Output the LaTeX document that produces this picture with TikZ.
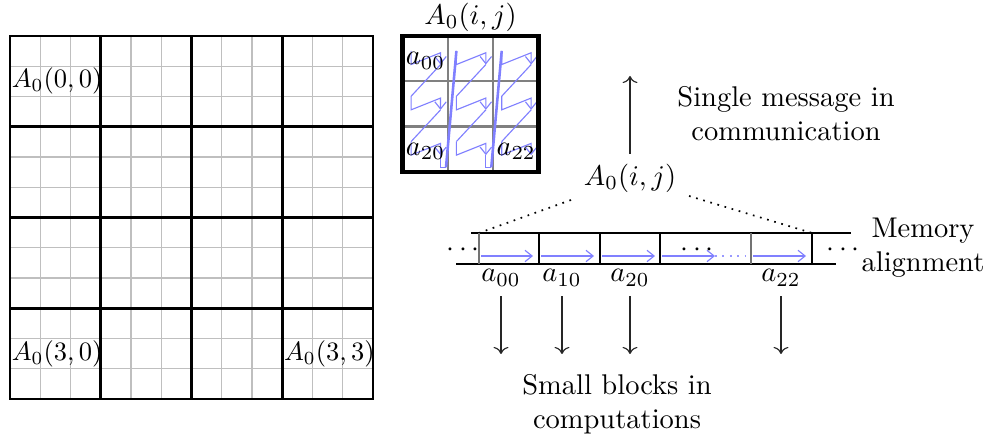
\documentclass[tikz,border=0pt]{standalone}
\usetikzlibrary{arrows.meta}
\begin{document}
\begin{tikzpicture}[x=0.3509pt,y=-0.3509pt,
  fineline/.style={black!25,line width=0.45pt},
  blockline/.style={black,line width=1pt},
  cellline/.style={black!50,line width=0.8pt},
  bluepath/.style={blue!50,line width=0.4pt},
  bluetip/.style={-{Straight Barb[length=2.5pt,width=4pt]}},
  memline/.style={black,line width=1pt},
  sepline/.style={black,line width=0.5pt},
  sepgray/.style={black!55,line width=0.6pt},
  blackarrow/.style={->,line width=0.4pt,black!85},
  lbl/.style={inner sep=0.5pt,anchor=west,scale=0.93,transform shape},
  albl/.style={inner sep=1pt,anchor=west}]
\useasboundingbox (0,0) rectangle (990,439);

% ---- big grid ----
\foreach \i in {1,...,11}{
  \draw[fineline] (10+\i*30.25,36) -- (10+\i*30.25,399);
  \draw[fineline] (10,36+\i*30.25) -- (373,36+\i*30.25);
}
\foreach \i in {3,6,9}{
  \draw[blockline] (10+\i*30.25,36) -- (10+\i*30.25,399);
  \draw[blockline] (10,36+\i*30.25) -- (373,36+\i*30.25);
}
\draw[blockline] (10,36) rectangle (373,399);
\node[lbl] (b00) at (10,81) {$A_0(0,0)$};
\node[lbl] (b30) at (10,353.6) {$A_0(3,0)$};
\node[lbl] (b33) at (282.25,353.6) {$A_0(3,3)$};

% ---- small matrix ----
\def\X{402.5}\def\Y{36}\def\S{45.3}
\node (title) at (470.5,17) {$A_0(i,j)$};
\draw[cellline] (\X+\S,\Y) -- (\X+\S,\Y+3*\S);
\draw[cellline] (\X+2*\S,\Y) -- (\X+2*\S,\Y+3*\S);
\draw[cellline] (\X,\Y+\S) -- (\X+3*\S,\Y+\S);
\draw[cellline] (\X,\Y+2*\S) -- (\X+3*\S,\Y+2*\S);
\foreach \c in {0,1,2}{
  \foreach \r in {0,1,2}{
    \pgfmathsetmacro\L{\X+\c*\S+0.19*\S}
    \pgfmathsetmacro\R{\X+\c*\S+0.84*\S}
    \pgfmathsetmacro\Ya{\Y+\r*\S+0.33*\S}
    \pgfmathsetmacro\Yb{\Y+\r*\S+0.63*\S}
    \pgfmathsetmacro\Yc{\Y+\r*\S+0.37*\S}
    \draw[bluepath,bluetip] (\L,\Ya) -- (\L,\Yb) -- (\R,\Yc) -- (\R,\Yb);
  }
  \pgfmathsetmacro\L{\X+\c*\S+0.19*\S}
  \pgfmathsetmacro\R{\X+\c*\S+0.84*\S}
  \draw[bluepath] (\R,\Y+0.63*\S) -- (\L,\Y+1.33*\S);
  \draw[bluepath] (\R,\Y+1.63*\S) -- (\L,\Y+2.33*\S);
}
\foreach \c in {0,1}{
  \pgfmathsetmacro\R{\X+\c*\S+0.84*\S}
  \pgfmathsetmacro\Ln{\X+(\c+1)*\S+0.19*\S}
  \draw[bluepath] (\R,\Y+2.63*\S) -- (\R,\Y+2.9*\S) -- (\R+0.12*\S,\Y+2.9*\S);
  \draw[bluepath,line width=0.9pt] (\R+0.12*\S,\Y+2.9*\S) -- (\Ln,\Y+0.33*\S);
}
\draw[black,line width=1.6pt] (\X,\Y) rectangle (\X+3*\S,\Y+3*\S);
\node[albl] (a00) at (\X,\Y+0.55*\S) {$a_{00}$};
\node[albl] (a20) at (\X,\Y+2.55*\S) {$a_{20}$};
\node[albl] (a22) at (\X+2*\S,\Y+2.55*\S) {$a_{22}$};

% ---- message ----
\node (msgij) at (630,178) {$A_0(i,j)$};
\coordinate (uptip) at (630,76);
\draw[blackarrow] (msgij.north) -- (uptip);
\node[align=center] (msg) at (786,114) {Single message in\\communication};

% ---- memory row ----
\coordinate (s1) at (479,233);
\coordinate (s6) at (812,233);
\coordinate (dl) at (571,200);
\coordinate (dr) at (689,196);
\draw[dotted,line width=0.6pt] (dl) -- (s1);
\draw[dotted,line width=0.6pt] (dr) -- (s6);
\draw[memline] (471,233) -- (851,233);
\draw[memline] (456,264) -- (836,264);
\foreach \x in {539,600,660,812}{
  \draw[sepline] (\x,233) -- (\x,264);
}
\foreach \x in {479,751}{
  \draw[sepgray] (\x,233) -- (\x,264);
}
\foreach \a/\b in {481/533,541/594,602/655,662/715,753/806}{
  \draw[bluepath,bluetip] (\a,256) -- (\b,256);
}
\draw[blue!40,dotted,line width=0.6pt] (715,256) -- (750,256);
\node (dotsl) at (463,250) {$\cdots$};
\node (dotsm) at (697,250) {$\cdots$};
\node (dotsr) at (843,250) {$\cdots$};
\node[align=center] (memtxt) at (923,248) {Memory\\alignment};

% ---- labels under & arrows ----
\node (m00) at (501,278) {$a_{00}$};
\node (m10) at (562,278) {$a_{10}$};
\node (m20) at (630,278) {$a_{20}$};
\node (m22) at (781,278) {$a_{22}$};
\coordinate (d00) at (501,354);
\coordinate (d10) at (562,354);
\coordinate (d20) at (630,354);
\coordinate (d22) at (781,354);
\draw[blackarrow] (m00.south) -- (d00);
\draw[blackarrow] (m10.south) -- (d10);
\draw[blackarrow] (m20.south) -- (d20);
\draw[blackarrow] (m22.south) -- (d22);
\node[align=center] (small) at (617,404) {Small blocks in\\computations};
\end{tikzpicture}
\end{document}
